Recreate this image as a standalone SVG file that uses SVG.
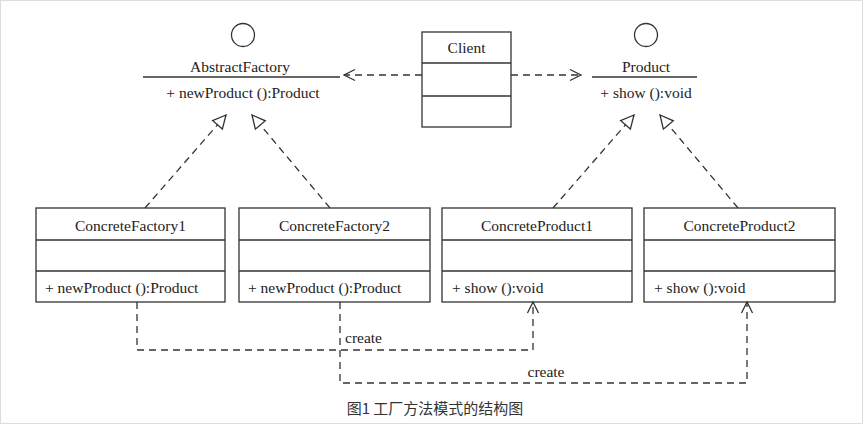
<svg xmlns="http://www.w3.org/2000/svg" width="867" height="426" viewBox="0 0 867 426">
<style>
.t{font-family:"Liberation Serif","Times New Roman",serif;font-size:15.5px;fill:#222}
.c{text-anchor:middle}
.box{fill:#fff;stroke:#333;stroke-width:1.3}
.ln{stroke:#333;stroke-width:1.3;fill:none}
.d{stroke:#333;stroke-width:1.3;fill:none;stroke-dasharray:7 5}
.cap{font-family:"Noto Sans CJK SC","Noto Sans",sans-serif;font-size:15px;fill:#333;text-anchor:middle}
</style>
<defs>
<marker id="tri" markerWidth="18" markerHeight="16" refX="14" refY="8" orient="auto" markerUnits="userSpaceOnUse">
<path d="M1,1.5 L14,8 L1,14.5 Z" fill="#fff" stroke="#333" stroke-width="1.3"/>
</marker>
<marker id="open" markerWidth="14" markerHeight="14" refX="12" refY="7" orient="auto" markerUnits="userSpaceOnUse">
<path d="M1,1.5 L12,7 L1,12.5" fill="none" stroke="#333" stroke-width="1.3"/>
</marker>
</defs>
<rect x="0.5" y="0.5" width="862" height="423" fill="#fff" stroke="#ddd"/>
<g id="AbstractFactory">
<circle cx="243" cy="35" r="11.5" class="ln"/>
<line x1="143" y1="77" x2="340" y2="77" class="ln"/>
<text x="240" y="72" class="t c">AbstractFactory</text>
<text x="243" y="98" class="t c">+ newProduct ():Product</text>
</g>
<g id="Client">
<rect x="422" y="32" width="89" height="95" class="box"/>
<line x1="422" y1="63" x2="511" y2="63" class="ln"/>
<line x1="422" y1="96" x2="511" y2="96" class="ln"/>
<text x="466.5" y="53" class="t c">Client</text>
</g>
<g id="Product">
<circle cx="646" cy="35" r="11.5" class="ln"/>
<line x1="592" y1="77" x2="697" y2="77" class="ln"/>
<text x="646" y="72" class="t c">Product</text>
<text x="646" y="98" class="t c">+ show ():void</text>
</g>
<g id="ConcreteFactory1">
<rect x="36" y="208" width="189" height="94" class="box"/>
<line x1="36" y1="240" x2="225" y2="240" class="ln"/>
<line x1="36" y1="271" x2="225" y2="271" class="ln"/>
<text x="130.5" y="231" class="t c">ConcreteFactory1</text>
<text x="45" y="293" class="t">+ newProduct ():Product</text>
</g>
<g id="ConcreteFactory2">
<rect x="239" y="208" width="191" height="94" class="box"/>
<line x1="239" y1="240" x2="430" y2="240" class="ln"/>
<line x1="239" y1="271" x2="430" y2="271" class="ln"/>
<text x="334.5" y="231" class="t c">ConcreteFactory2</text>
<text x="248" y="293" class="t">+ newProduct ():Product</text>
</g>
<g id="ConcreteProduct1">
<rect x="442" y="208" width="190" height="94" class="box"/>
<line x1="442" y1="240" x2="632" y2="240" class="ln"/>
<line x1="442" y1="271" x2="632" y2="271" class="ln"/>
<text x="537" y="231" class="t c">ConcreteProduct1</text>
<text x="452" y="293" class="t">+ show ():void</text>
</g>
<g id="ConcreteProduct2">
<rect x="644" y="208" width="191" height="94" class="box"/>
<line x1="644" y1="240" x2="835" y2="240" class="ln"/>
<line x1="644" y1="271" x2="835" y2="271" class="ln"/>
<text x="739.5" y="231" class="t c">ConcreteProduct2</text>
<text x="654" y="293" class="t">+ show ():void</text>
</g>
<g id="connectors">
<line x1="422" y1="75" x2="344" y2="75" class="d" marker-end="url(#open)"/>
<line x1="511" y1="75" x2="581" y2="75" class="d" marker-end="url(#open)"/>
<line x1="145" y1="208" x2="226" y2="115" class="d" marker-end="url(#tri)"/>
<line x1="330" y1="208" x2="252" y2="115" class="d" marker-end="url(#tri)"/>
<line x1="553" y1="208" x2="634" y2="115" class="d" marker-end="url(#tri)"/>
<line x1="738" y1="208" x2="660" y2="115" class="d" marker-end="url(#tri)"/>
<polyline points="137,302 137,350 533,350 533,302" class="d" marker-end="url(#open)"/>
<polyline points="340,302 340,383 747,383 747,302" class="d" marker-end="url(#open)"/>
<text x="345" y="343" class="t">create</text>
<text x="546" y="377" class="t c">create</text>
</g>
<text x="435" y="414" class="cap">图1 工厂方法模式的结构图</text>
</svg>
